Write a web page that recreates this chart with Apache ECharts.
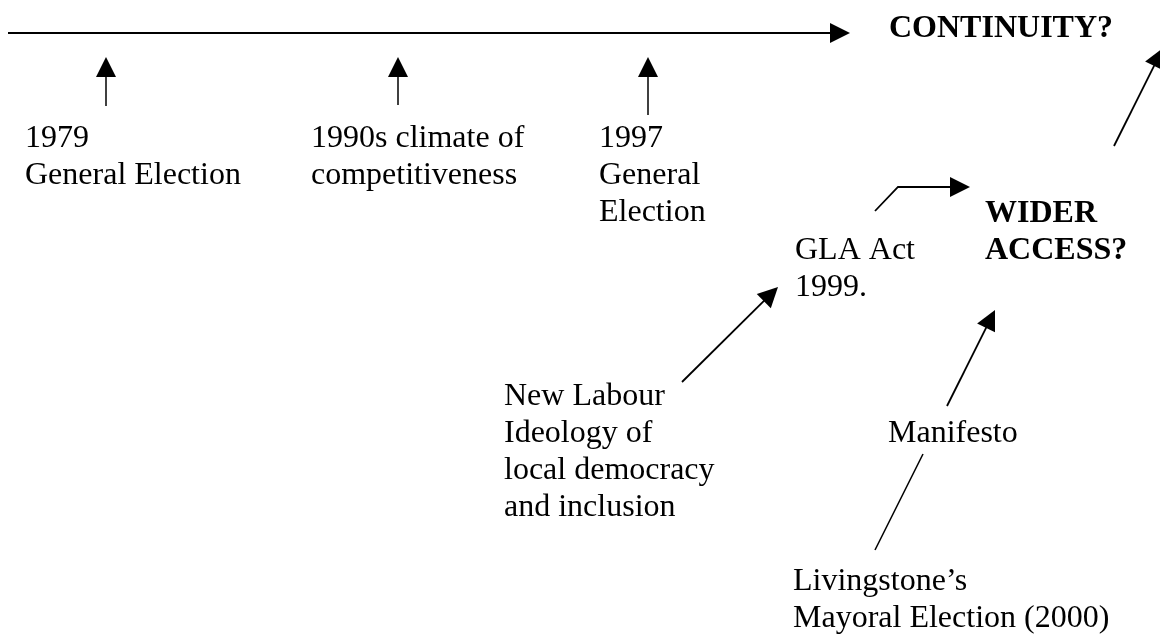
<!DOCTYPE html>
<html>
<head>
<meta charset="utf-8">
<script src="https://cdn.jsdelivr.net/npm/echarts@6/dist/echarts.min.js"></script>
<style>
html,body{margin:0;padding:0;background:#fff;}
#chart{width:1160px;height:635px;}
</style>
</head>
<body>
<div id="chart"></div>
<script>
// Diagram nodes: text lines, left x, first-line baseline y (diagram units = page pixels)
const nodeTexts = [
  ['1979', 'General Election'],
  ['1990s climate of', 'competitiveness'],
  ['1997', 'General', 'Election'],
  ['CONTINUITY?'],
  ['WIDER', 'ACCESS?'],
  ['GLA Act', '1999.'],
  ['New Labour', 'Ideology of', 'local democracy', 'and inclusion'],
  ['Manifesto'],
  ['Livingstone\u2019s', 'Mayoral Election (2000)']
];
const nodeX = [25, 311, 599, 889, 985, 795, 504, 888, 793];
const nodeY = [150, 150, 150, 40, 225, 262, 408, 445, 593];
const nodeBold = [false, false, false, true, true, false, false, false, false];

// Connectors: polyline points [x, y]; last point is arrow tip when headed
const linkPaths = [
  [[8, 33], [850, 33]],
  [[106, 106], [106, 57]],
  [[398, 105], [398, 57]],
  [[648, 115], [648, 57]],
  [[1114, 146], [1163, 48]],
  [[875, 211], [898, 187], [970, 187]],
  [[682, 382], [778, 287]],
  [[947, 406], [995, 310]],
  [[875, 550], [923, 454]]
];
const linkHeads = [true, true, true, true, true, true, true, true, false];
const linkWidths = [2, 1.5, 1.5, 1.5, 1.8, 1.8, 1.8, 1.8, 1.6];

const FONT = '"Liberation Serif", "Times New Roman", serif';
const FONT_SIZE = 32;
const LINE_GAP = 36.7;
const MID_OFFSET = 11;
const HEAD_LEN = 20, HEAD_HALF = 10;

const chart = echarts.init(document.getElementById('chart'), null, {renderer: 'canvas'});

function renderLink(params, api) {
  const i = params.dataIndex;
  const pts = linkPaths[i].map(p => api.coord(p));
  const children = [];
  let linePts = pts.slice();
  if (linkHeads[i]) {
    const tip = pts[pts.length - 1];
    const prev = pts[pts.length - 2];
    const dx = tip[0] - prev[0], dy = tip[1] - prev[1];
    const len = Math.sqrt(dx * dx + dy * dy);
    const ux = dx / len, uy = dy / len;
    const bx = tip[0] - ux * HEAD_LEN, by = tip[1] - uy * HEAD_LEN;
    const nx = -uy, ny = ux;
    linePts[linePts.length - 1] = [bx + ux * 2, by + uy * 2];
    children.push({
      type: 'polygon',
      shape: {points: [tip, [bx + nx * HEAD_HALF, by + ny * HEAD_HALF], [bx - nx * HEAD_HALF, by - ny * HEAD_HALF]]},
      style: {fill: '#000'}
    });
  }
  children.unshift({
    type: 'polyline',
    shape: {points: linePts},
    style: {stroke: '#000', lineWidth: linkWidths[i], fill: null}
  });
  return {type: 'group', children: children};
}

function renderNode(params, api) {
  const i = params.dataIndex;
  const children = nodeTexts[i].map((t, k) => {
    const p = api.coord([nodeX[i], nodeY[i] + k * LINE_GAP]);
    return {
      type: 'text',
      x: p[0],
      y: p[1] - MID_OFFSET,
      style: {
        text: t,
        fill: '#000',
        font: (nodeBold[i] ? 'bold ' : '') + FONT_SIZE + 'px ' + FONT,
        align: 'left',
        verticalAlign: 'middle'
      }
    };
  });
  return {type: 'group', children: children};
}

chart.setOption({
  animation: false,
  backgroundColor: '#fff',
  grid: {left: 0, right: 0, top: 0, bottom: 0},
  xAxis: {type: 'value', min: 0, max: 1160, show: false},
  yAxis: {type: 'value', min: 0, max: 635, inverse: true, show: false},
  series: [
    {
      type: 'custom',
      coordinateSystem: 'cartesian2d',
      renderItem: renderLink,
      data: linkPaths.map((p, i) => [p[0][0], p[0][1], i]),
      silent: true
    },
    {
      type: 'custom',
      coordinateSystem: 'cartesian2d',
      renderItem: renderNode,
      data: nodeX.map((x, i) => [x, nodeY[i], i]),
      silent: true
    }
  ]
});
</script>
</body>
</html>
